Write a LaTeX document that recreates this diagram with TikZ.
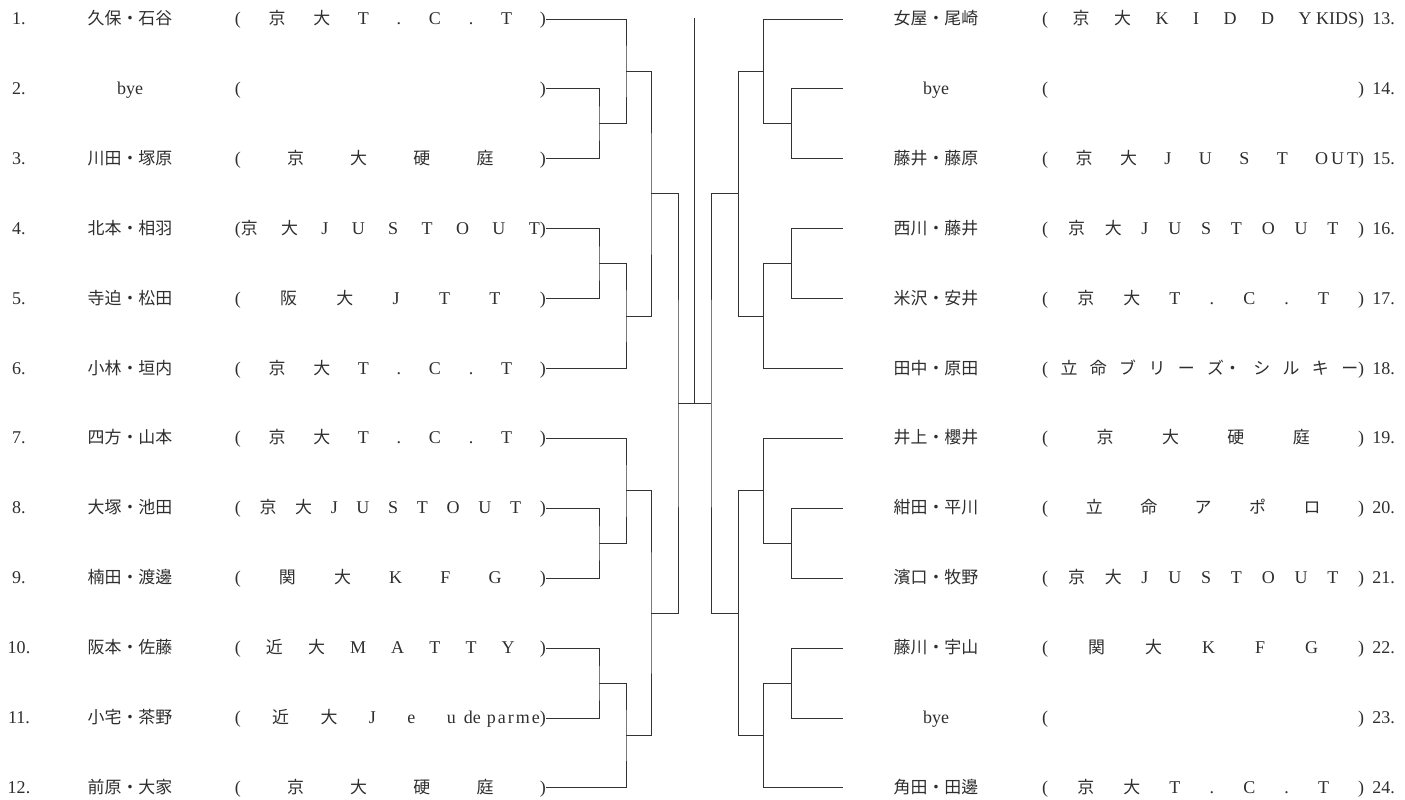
\documentclass[tikz,border=0pt]{standalone}
\usepackage{fontspec}
\setmainfont{Liberation Serif}
\newfontfamily\jpfont{Noto Sans CJK JP}[Scale=0.94]
\usepackage{tikz}
\usetikzlibrary{calc}
\newcommand{\jp}[1]{{\jpfont #1}}
\newcommand{\gp}{\hfill}
\newcommand{\clubl}[1]{\makebox[311pt][s]{#1}}
\newcommand{\clubr}[1]{\makebox[322pt][s]{#1}}

\begin{document}
\begin{tikzpicture}[
			x=1pt, y=-1pt,
			every node/.style={font=\fontsize{18pt}{21pt}\selectfont, text=black!82, inner sep=0pt, text height=13pt, text depth=2pt},
			num/.style={},
			numr/.style={anchor=east},
			pair/.style={font=\fontsize{18pt}{21pt}\selectfont\jpfont},
			pairr/.style={pair, minimum width=186pt},
			clubleft/.style={anchor=east},
			clubright/.style={anchor=west},
			link/.style={draw=black!80, line width=0.9pt}
		]
		\useasboundingbox (0,0) rectangle (1405,800);
		% left half
		\node[num] (n1) at (19,19) {1.};
		\node[pair] (p1) at (130,19) {久保・石谷};
		\node[clubleft] (c1) at (546,19) {\clubl{(\gp\jp{京}\gp\jp{大}\gp T\gp .\gp C\gp .\gp T\gp)}};
		\node[num] (n2) at (19,88.9) {2.};
		\node[pair] (p2) at (130,88.9) {\rmfamily bye};
		\node[clubleft] (c2) at (546,88.9) {\clubl{(\gp)}};
		\node[num] (n3) at (19,158.8) {3.};
		\node[pair] (p3) at (130,158.8) {川田・塚原};
		\node[clubleft] (c3) at (546,158.8) {\clubl{(\gp\jp{京}\gp\jp{大}\gp\jp{硬}\gp\jp{庭}\gp)}};
		\node[num] (n4) at (19,228.7) {4.};
		\node[pair] (p4) at (130,228.7) {北本・相羽};
		\node[clubleft] (c4) at (546,228.7) {\clubl{(\jp{京}\gp\jp{大}\gp J\gp U\gp S\gp T\gp O\gp U\gp T)}};
		\node[num] (n5) at (19,298.6) {5.};
		\node[pair] (p5) at (130,298.6) {寺迫・松田};
		\node[clubleft] (c5) at (546,298.6) {\clubl{(\gp\jp{阪}\gp\jp{大}\gp J\gp T\gp T\gp)}};
		\node[num] (n6) at (19,368.5) {6.};
		\node[pair] (p6) at (130,368.5) {小林・垣内};
		\node[clubleft] (c6) at (546,368.5) {\clubl{(\gp\jp{京}\gp\jp{大}\gp T\gp .\gp C\gp .\gp T\gp)}};
		\node[num] (n7) at (19,438.4) {7.};
		\node[pair] (p7) at (130,438.4) {四方・山本};
		\node[clubleft] (c7) at (546,438.4) {\clubl{(\gp\jp{京}\gp\jp{大}\gp T\gp .\gp C\gp .\gp T\gp)}};
		\node[num] (n8) at (19,508.3) {8.};
		\node[pair] (p8) at (130,508.3) {大塚・池田};
		\node[clubleft] (c8) at (546,508.3) {\clubl{(\gp\jp{京}\gp\jp{大}\gp J\gp U\gp S\gp T\gp O\gp U\gp T\gp)}};
		\node[num] (n9) at (19,578.2) {9.};
		\node[pair] (p9) at (130,578.2) {楠田・渡邊};
		\node[clubleft] (c9) at (546,578.2) {\clubl{(\gp\jp{関}\gp\jp{大}\gp K\gp F\gp G\gp)}};
		\node[num] (n10) at (19,648.1) {10.};
		\node[pair] (p10) at (130,648.1) {阪本・佐藤};
		\node[clubleft] (c10) at (546,648.1) {\clubl{(\gp\jp{近}\gp\jp{大}\gp M\gp A\gp T\gp T\gp Y\gp)}};
		\node[num] (n11) at (19,718) {11.};
		\node[pair] (p11) at (130,718) {小宅・茶野};
		\node[clubleft] (c11) at (546,718) {\clubl{(\gp\jp{近}\gp\jp{大}\gp J\gp e\gp u\hspace{8pt}de\hspace{6pt}p\kern2pt a\kern2pt r\kern2pt m\kern2pt e)}};
		\node[num] (n12) at (19,787.9) {12.};
		\node[pair] (p12) at (130,787.9) {前原・大家};
		\node[clubleft] (c12) at (546,787.9) {\clubl{(\gp\jp{京}\gp\jp{大}\gp\jp{硬}\gp\jp{庭}\gp)}};
		% right half
		\node[pairr] (p13) at (936,19) {女屋・尾崎};
		\node[clubright] (c13) at (1042,19) {\clubr{(\gp\jp{京}\gp\jp{大}\gp K\gp I\gp D\gp D\gp Y\ KIDS)}};
		\node[numr] (n13) at (1395,19) {13.};
		\node[pairr] (p14) at (936,88.9) {\rmfamily bye};
		\node[clubright] (c14) at (1042,88.9) {\clubr{(\gp)}};
		\node[numr] (n14) at (1395,88.9) {14.};
		\node[pairr] (p15) at (936,158.8) {藤井・藤原};
		\node[clubright] (c15) at (1042,158.8) {\clubr{(\gp\jp{京}\gp\jp{大}\gp J\gp U\gp S\gp T\gp O\kern3pt U\kern3pt T)}};
		\node[numr] (n15) at (1395,158.8) {15.};
		\node[pairr] (p16) at (936,228.7) {西川・藤井};
		\node[clubright] (c16) at (1042,228.7) {\clubr{(\gp\jp{京}\gp\jp{大}\gp J\gp U\gp S\gp T\gp O\gp U\gp T\gp)}};
		\node[numr] (n16) at (1395,228.7) {16.};
		\node[pairr] (p17) at (936,298.6) {米沢・安井};
		\node[clubright] (c17) at (1042,298.6) {\clubr{(\gp\jp{京}\gp\jp{大}\gp T\gp .\gp C\gp .\gp T\gp)}};
		\node[numr] (n17) at (1395,298.6) {17.};
		\node[pairr] (p18) at (936,368.5) {田中・原田};
		\node[clubright] (c18) at (1042,368.5) {\clubr{(\jp{\gp 立\gp 命\gp ブ\gp リ\gp ー\gp ズ・\gp シ\gp ル\gp キ\gp ー})}};
		\node[numr] (n18) at (1395,368.5) {18.};
		\node[pairr] (p19) at (936,438.4) {井上・櫻井};
		\node[clubright] (c19) at (1042,438.4) {\clubr{(\gp\jp{京}\gp\jp{大}\gp\jp{硬}\gp\jp{庭}\gp)}};
		\node[numr] (n19) at (1395,438.4) {19.};
		\node[pairr] (p20) at (936,508.3) {紺田・平川};
		\node[clubright] (c20) at (1042,508.3) {\clubr{(\jp{\gp 立\gp 命\gp ア\gp ポ\gp ロ\gp})}};
		\node[numr] (n20) at (1395,508.3) {20.};
		\node[pairr] (p21) at (936,578.2) {濱口・牧野};
		\node[clubright] (c21) at (1042,578.2) {\clubr{(\gp\jp{京}\gp\jp{大}\gp J\gp U\gp S\gp T\gp O\gp U\gp T\gp)}};
		\node[numr] (n21) at (1395,578.2) {21.};
		\node[pairr] (p22) at (936,648.1) {藤川・宇山};
		\node[clubright] (c22) at (1042,648.1) {\clubr{(\gp\jp{関}\gp\jp{大}\gp K\gp F\gp G\gp)}};
		\node[numr] (n22) at (1395,648.1) {22.};
		\node[pairr] (p23) at (936,718) {\rmfamily bye};
		\node[clubright] (c23) at (1042,718) {\clubr{(\gp)}};
		\node[numr] (n23) at (1395,718) {23.};
		\node[pairr] (p24) at (936,787.9) {角田・田邊};
		\node[clubright] (c24) at (1042,787.9) {\clubr{(\gp\jp{京}\gp\jp{大}\gp T\gp .\gp C\gp .\gp T\gp)}};
		\node[numr] (n24) at (1395,787.9) {24.};
		% bracket joints
		\coordinate (b23) at (599,123.85);
		\coordinate (b123) at (626,71.43);
		\coordinate (b45) at (599,263.65);
		\coordinate (b456) at (626,316.08);
		\coordinate (b16) at (651,193.75);
		\coordinate (b89) at (599,543.25);
		\coordinate (b789) at (626,490.83);
		\coordinate (b1011) at (599,683.05);
		\coordinate (b1012) at (626,735.48);
		\coordinate (b712) at (651,613.15);
		\coordinate (b112) at (678,403.45);
		\coordinate (r1415) at (791,123.85);
		\coordinate (r1315) at (763,71.43);
		\coordinate (r1617) at (791,263.65);
		\coordinate (r1618) at (763,316.08);
		\coordinate (r1318) at (738,193.75);
		\coordinate (r2021) at (791,543.25);
		\coordinate (r1921) at (763,490.83);
		\coordinate (r2223) at (791,683.05);
		\coordinate (r2224) at (763,735.48);
		\coordinate (r1924) at (738,613.15);
		\coordinate (r1324) at (711,403.45);
		\coordinate (top) at (694.5,18);
		% left bracket
		\draw[link] (c2.east) -| (b23) |- (c3.east);
		\draw[link] (c1.east) -| (b123) |- (b23);
		\draw[link] (c4.east) -| (b45) |- (c5.east);
		\draw[link] (b45) -| (b456) |- (c6.east);
		\draw[link] (b123) -| (b16) |- (b456);
		\draw[link] (c8.east) -| (b89) |- (c9.east);
		\draw[link] (c7.east) -| (b789) |- (b89);
		\draw[link] (c10.east) -| (b1011) |- (c11.east);
		\draw[link] (b1011) -| (b1012) |- (c12.east);
		\draw[link] (b789) -| (b712) |- (b1012);
		\draw[link] (b16) -| (b112) |- (b712);
		% right bracket
		\draw[link] (p14.west) -| (r1415) |- (p15.west);
		\draw[link] (p13.west) -| (r1315) |- (r1415);
		\draw[link] (p16.west) -| (r1617) |- (p17.west);
		\draw[link] (r1617) -| (r1618) |- (p18.west);
		\draw[link] (r1315) -| (r1318) |- (r1618);
		\draw[link] (p20.west) -| (r2021) |- (p21.west);
		\draw[link] (p19.west) -| (r1921) |- (r2021);
		\draw[link] (p22.west) -| (r2223) |- (p23.west);
		\draw[link] (r2223) -| (r2224) |- (p24.west);
		\draw[link] (r1921) -| (r1924) |- (r2224);
		\draw[link] (r1318) -| (r1324) |- (r1924);
		% final
		\draw[link] (b112) -- (r1324);
		\draw[link] (top) -- (top |- b112);
	\end{tikzpicture}
\end{document}
